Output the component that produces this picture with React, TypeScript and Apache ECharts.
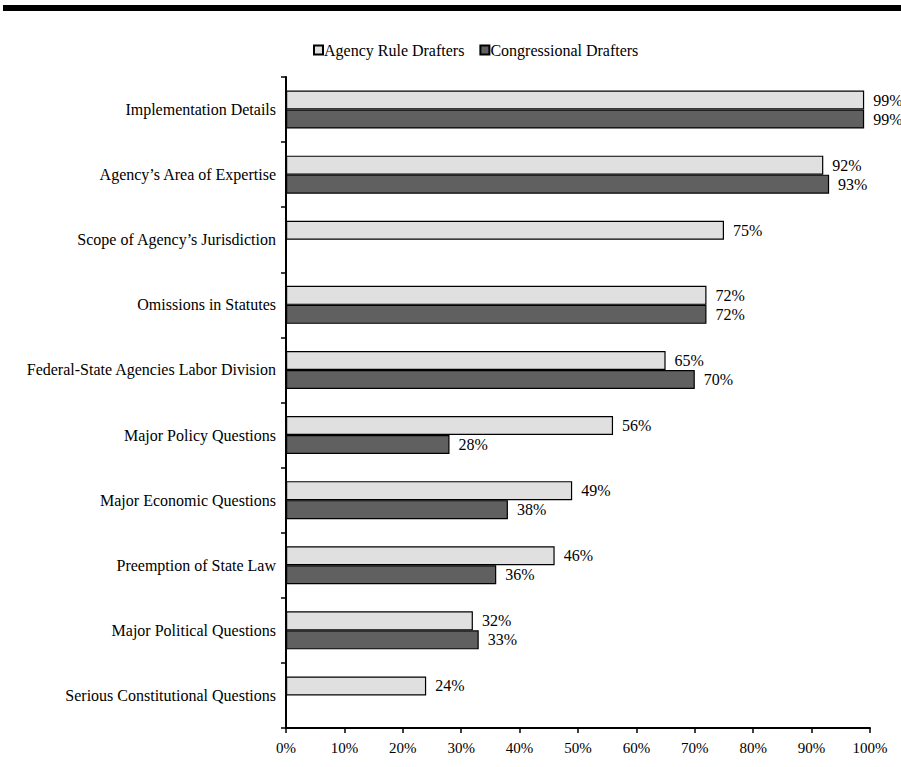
import React, { useEffect, useRef } from "react";
import * as echarts from "echarts";

const categories = [
  "Implementation Details",
  "Agency\u2019s Area of Expertise",
  "Scope of Agency\u2019s Jurisdiction",
  "Omissions in Statutes",
  "Federal-State Agencies Labor Division",
  "Major Policy Questions",
  "Major Economic Questions",
  "Preemption of State Law",
  "Major Political Questions",
  "Serious Constitutional Questions",
];
const agencyRuleDrafters: (number | null)[] = [99, 92, 75, 72, 65, 56, 49, 46, 32, 24];
const congressionalDrafters: (number | null)[] = [99, 93, null, 72, 70, 28, 38, 36, 33, null];
const xTicks = [0, 10, 20, 30, 40, 50, 60, 70, 80, 90, 100];

const FONT = "'Liberation Serif', 'Times New Roman', serif";

export default function App() {
  const ref = useRef<HTMLDivElement>(null);
  useEffect(() => {
    if (!ref.current) return;
    const chart = echarts.init(ref.current, null, { renderer: "svg" });
    const labelCfg = {
      show: true,
      position: "right" as const,
      distance: 9,
      formatter: (p: any) => `${p.value}%`,
      color: "#000",
      fontFamily: FONT,
      fontSize: 16,
    };
    chart.setOption({
      animation: false,
      backgroundColor: "#fff",
      textStyle: { fontFamily: FONT, color: "#000" },
      graphic: [
        {
          type: "rect",
          shape: { x: 3, y: 5, width: 898, height: 6 },
          style: { fill: "#000" },
          silent: true,
        },
      ],
      legend: {
        top: 37,
        left: 308,
        itemWidth: 9,
        itemHeight: 9,
        itemGap: 15,
        textStyle: { fontFamily: FONT, fontSize: 16, color: "#000", padding: [0, 0, 0, -4] },
        data: [
          { name: "Agency Rule Drafters", icon: "rect" },
          { name: "Congressional Drafters", icon: "rect" },
        ],
      },
      grid: { left: 286, right: 31, top: 77, bottom: 39, containLabel: false },
      xAxis: {
        type: "value",
        min: 0,
        max: 100,
        interval: 10,
        axisLine: { show: true, lineStyle: { color: "#000", width: 2 } },
        axisTick: { show: true, length: 5, lineStyle: { color: "#000", width: 1.5 } },
        splitLine: { show: false },
        axisLabel: {
          formatter: (v: number) => (xTicks.includes(v) ? `${v}%` : ""),
          color: "#000",
          fontFamily: FONT,
          fontSize: 15,
          margin: 12,
        },
      },
      yAxis: {
        type: "category",
        data: categories,
        inverse: true,
        axisLine: { show: true, lineStyle: { color: "#000", width: 2 } },
        axisTick: { show: true, length: 5, lineStyle: { color: "#000", width: 1.5 } },
        axisLabel: { color: "#000", fontFamily: FONT, fontSize: 16, margin: 10 },
      },
      series: [
        {
          name: "Agency Rule Drafters",
          type: "bar",
          data: agencyRuleDrafters,
          barWidth: 19,
          barGap: "0%",
          itemStyle: { color: "#e0e0e0", borderColor: "#000", borderWidth: 1.2 },
          label: labelCfg,
        },
        {
          name: "Congressional Drafters",
          type: "bar",
          data: congressionalDrafters,
          barWidth: 19,
          barGap: "0%",
          itemStyle: { color: "#606060", borderColor: "#000", borderWidth: 1.2 },
          label: labelCfg,
        },
      ],
    });
    return () => chart.dispose();
  }, []);
  return <div ref={ref} style={{ width: 901, height: 767, position: "absolute", left: 0, top: 0 }} />;
}
